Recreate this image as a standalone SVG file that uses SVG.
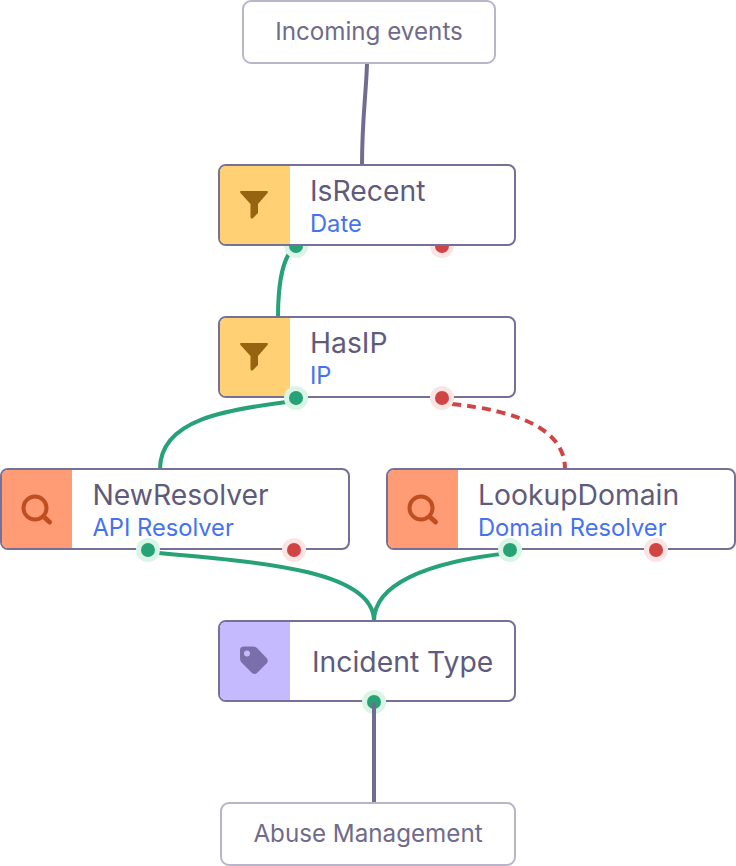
<svg xmlns="http://www.w3.org/2000/svg" width="736" height="866" viewBox="0 0 736 866">
<style>
text{font-family:Inter,"Liberation Sans",sans-serif}
.box{fill:#fff;stroke:#757095;stroke-width:2}
.term{fill:#fff;stroke:#b8b5cb;stroke-width:2}
.tt{font-size:24.2px;fill:#6f6b8c;text-anchor:middle}
.name{font-size:28.3px;fill:#5f5b7c}
.sub{font-size:23.7px;fill:#4472f0}
.c{fill:none;stroke-width:4}
.g{stroke:#26a276}.r{stroke:#d14444}.n{stroke:#716d91}
.gh{fill:#daf5e6}.gd{fill:#26a276}.rh{fill:#fbe4e4}.rd{fill:#d14444}
.fi{fill:#966410}
.si{fill:none;stroke:#bf4f21;stroke-width:4}
.sh{fill:none;stroke:#bf4f21;stroke-width:5;stroke-linecap:round}
</style>
<defs>
<g id="gp"><circle r="12" class="gh"/><circle r="7" class="gd"/></g>
<g id="rp"><circle r="12" class="rh"/><circle r="7" class="rd"/></g>
<path id="funnel" class="fi" d="M241 191H267Q268.500 191 267.500 193L258 204V213L252.500 218.500Q250.500 219 250.500 217V204L240.500 193Q239.500 191 241 191Z"/>
<g id="mag"><circle cx="35" cy="508" r="11.500" class="si"/><path class="sh" d="M44 517L49.500 522"/></g>
</defs>
<g id="connectors">
<path class="c n" d="M367 64C366 95 362 120 362 165"/>
<path class="c g" d="M296 246C284 254 278 280 278 317"/>
<path class="c g" d="M296 401C225 409 160 420 160 469"/>
<path class="c r" stroke-dasharray="9 6" d="M452 404C520 411 565 430 565 469"/>
<path class="c g" d="M148 552C260 562 374 570 374 621"/>
<path class="c g" d="M510 553C425 562 374 585 374 621"/>
<path class="c n" d="M374 712V803"/>
</g>
<g id="incoming"><rect class="term" x="243" y="1" width="252" height="62" rx="8"/><text class="tt" x="369" y="40">Incoming events</text></g>
<g id="isrecent">
<use href="#gp" x="296" y="246"/><use href="#rp" x="442" y="246"/>
<rect class="box" x="219" y="165" width="296" height="80" rx="7"/>
<path d="M226 166H290V244H226Q220 244 220 238V172Q220 166 226 166Z" fill="#ffd074"/>
<use href="#funnel"/>
<text class="name" x="310" y="200.500">IsRecent</text><text class="sub" x="310" y="232">Date</text>
</g>
<g id="hasip">
<rect class="box" x="219" y="317" width="296" height="80" rx="7"/>
<path d="M226 318H290V396H226Q220 396 220 390V324Q220 318 226 318Z" fill="#ffd074"/>
<use href="#funnel" y="152"/>
<text class="name" x="310" y="352.500">HasIP</text><text class="sub" x="310" y="384">IP</text>
<use href="#gp" x="296" y="398"/><use href="#rp" x="442" y="398"/>
</g>
<g id="newresolver">
<rect class="box" x="1" y="469" width="348" height="80" rx="7"/>
<path d="M8 470H72V548H8Q2 548 2 542V476Q2 470 8 470Z" fill="#ff9c76"/>
<use href="#mag"/>
<text class="name" x="92.500" y="504.500">NewResolver</text><text class="sub" x="92.500" y="536">API Resolver</text>
<use href="#gp" x="148" y="550"/><use href="#rp" x="294" y="550"/>
</g>
<g id="lookupdomain">
<rect class="box" x="387" y="469" width="348" height="80" rx="7"/>
<path d="M394 470H458V548H394Q388 548 388 542V476Q388 470 394 470Z" fill="#ff9c76"/>
<use href="#mag" x="386"/>
<text class="name" x="478" y="504.500">LookupDomain</text><text class="sub" x="478" y="536">Domain Resolver</text>
<use href="#gp" x="510" y="550"/><use href="#rp" x="656" y="550"/>
</g>
<g id="incident">
<rect class="box" x="219" y="621" width="296" height="80" rx="7"/>
<path d="M226 622H290V700H226Q220 700 220 694V628Q220 622 226 622Z" fill="#c6baff"/>
<path d="M244 646.500H253Q255 646.500 257 648L267 658.500Q268.500 661 267 663L257 673Q254.500 675 252 673L241.500 662.500Q240 661 240 658V650Q240 646.500 244 646.500Z" fill="#7a6fab"/>
<circle cx="247" cy="653.500" r="3" fill="#c6baff"/>
<text class="name" x="312" y="671.500">Incident Type</text>
<use href="#gp" x="374" y="702"/>
<path class="c n" style="stroke-linecap:round" d="M374 704V714"/>
</g>
<g id="abuse"><rect class="term" x="221" y="803" width="294" height="62" rx="8"/><text class="tt" x="368" y="842">Abuse Management</text></g>
</svg>
